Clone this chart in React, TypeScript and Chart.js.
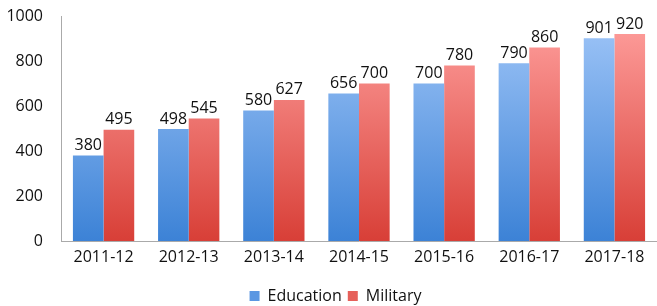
import React, { useEffect, useRef } from "react";
import { Chart, registerables } from "chart.js";

Chart.register(...registerables);

const categories = ["2011-12", "2012-13", "2013-14", "2014-15", "2015-16", "2016-17", "2017-18"];
const education = [380, 498, 580, 656, 700, 790, 901];
const military = [495, 545, 627, 700, 780, 860, 920];
const yTicks = [0, 200, 400, 600, 800, 1000];

const FONT = "'Open Sans', sans-serif";

function grad(ctx: any, top: string, bottom: string) {
  const chart = ctx.chart;
  const area = chart.chartArea;
  if (!area) return top;
  const g = chart.ctx.createLinearGradient(0, area.top, 0, area.bottom);
  g.addColorStop(0, top);
  g.addColorStop(1, bottom);
  return g;
}

const labelPlugin = {
  id: "barLabels",
  afterDatasetsDraw(chart: any) {
    const c = chart.ctx;
    c.save();
    c.font = `16px ${FONT}`;
    c.fillStyle = "#111";
    c.textAlign = "center";
    c.textBaseline = "bottom";
    chart.data.datasets.forEach((ds: any, i: number) => {
      const meta = chart.getDatasetMeta(i);
      meta.data.forEach((bar: any, j: number) => {
        c.fillText(String(ds.data[j]), bar.x, bar.y - 2);
      });
    });
    c.restore();
  },
};

export default function App() {
  const ref = useRef<HTMLCanvasElement>(null);
  useEffect(() => {
    const chart = new Chart(ref.current!, {
      type: "bar",
      data: {
        labels: categories,
        datasets: [
          {
            label: "Education",
            data: education,
            backgroundColor: (ctx: any) => grad(ctx, "#a0c6f8", "#3c82d6"),
            borderWidth: 0,
            categoryPercentage: 0.72,
            barPercentage: 1,
          },
          {
            label: "Military",
            data: military,
            backgroundColor: (ctx: any) => grad(ctx, "#ffa09e", "#d83f37"),
            borderWidth: 0,
            categoryPercentage: 0.72,
            barPercentage: 1,
          },
        ],
      },
      options: {
        animation: false,
        responsive: false,
        maintainAspectRatio: false,
        layout: { padding: { top: 16, right: -6, left: 8, bottom: -8 } },
        plugins: {
          legend: {
            position: "bottom",
            labels: {
              font: { family: FONT, size: 16 },
              color: "#111",
              boxWidth: 10,
              boxHeight: 10,
              padding: 6,
              generateLabels: (ch: any) =>
                ch.data.datasets.map((d: any, i: number) => ({
                  text: d.label,
                  fillStyle: i === 0 ? "#5b97e2" : "#e6605a",
                  strokeStyle: "transparent",
                  lineWidth: 0,
                  datasetIndex: i,
                  fontColor: "#111",
                })),
            },
          },
          tooltip: { enabled: false },
        },
        scales: {
          x: {
            grid: { display: false, drawTicks: false },
            border: { display: true, color: "#aaa", width: 1 },
            ticks: { font: { family: FONT, size: 16 }, color: "#111", padding: 7 },
            afterFit: (axis: any) => {
              axis.height = 41;
            },
          },
          y: {
            min: 0,
            max: 1000,
            afterBuildTicks: (axis: any) => {
              axis.ticks = yTicks.map((v) => ({ value: v }));
            },
            afterFit: (axis: any) => {
              axis.width = 53;
              axis.paddingTop = 0;
              axis.paddingBottom = 0;
            },
            grid: { display: false, drawTicks: false },
            border: { display: true, color: "#aaa", width: 1 },
            ticks: {
              font: { family: FONT, size: 16 },
              color: "#111",
              padding: 18,
              callback: (v: any) => String(v),
            },
          },
        },
      },
      plugins: [labelPlugin],
    });
    return () => chart.destroy();
  }, []);
  return (
    <div style={{ position: "fixed", left: 0, top: 0, width: 657, height: 306, background: "#fff" }}>
      <canvas ref={ref} width={657} height={306} />
    </div>
  );
}
